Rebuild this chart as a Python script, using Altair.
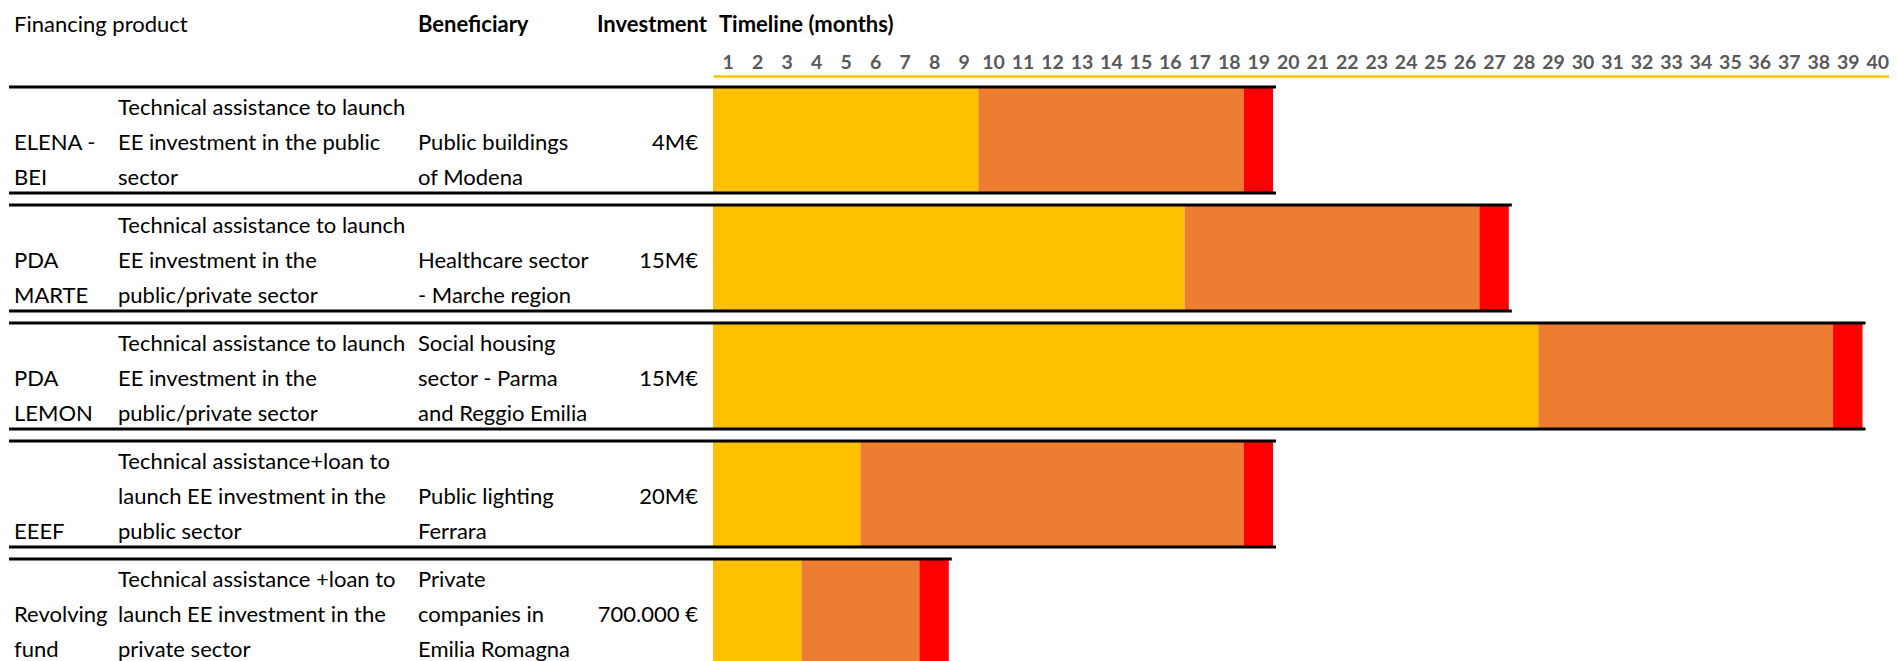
import altair as alt
import pandas as pd

# ---------------- data ----------------
products = ["ELENA -\nBEI", "PDA\nMARTE", "PDA\nLEMON", "EEEF", "Revolving\nfund"]
descriptions = [
    "Technical assistance to launch\nEE investment in the public\nsector",
    "Technical assistance to launch\nEE investment in the\npublic/private sector",
    "Technical assistance to launch\nEE investment in the\npublic/private sector",
    "Technical assistance+loan to\nlaunch EE investment in the\npublic sector",
    "Technical assistance +loan to\nlaunch EE investment in the\nprivate sector",
]
beneficiaries = [
    "Public buildings\nof Modena",
    "Healthcare sector\n- Marche region",
    "Social housing\nsector - Parma\nand Reggio Emilia",
    "Public lighting\nFerrara",
    "Private\ncompanies in\nEmilia Romagna",
]
investments = ["4M€", "15M€", "15M€", "20M€", "700.000 €"]
phase1_end = [9, 16, 28, 5, 3]
phase2_end = [18, 26, 38, 18, 7]
phase3_end = [19, 27, 39, 19, 8]
months = list(range(1, 41))
headers = ["Financing product", "Beneficiary", "Investment", "Timeline (months)"]

# ---------------- tables built from the arrays ----------------
seg_rows = []
for i in range(len(products)):
    b = [0, phase1_end[i], phase2_end[i], phase3_end[i]]
    for p in range(3):
        seg_rows.append({"row": i, "phase": p + 1, "start": b[p], "end": b[p + 1]})
seg_df = pd.DataFrame(seg_rows)

row_df = pd.DataFrame({"row": list(range(len(products))), "end": phase3_end})

text_rows = []
for col, texts, valign in [
    ("product", products, "bottom"),
    ("description", descriptions, "bottom"),
    ("beneficiary", beneficiaries, "bottom"),
    ("investment", investments, "middle"),
]:
    for i, t in enumerate(texts):
        parts = t.split("\n")
        first = 1 if valign == "middle" else 3 - len(parts)
        for k, p in enumerate(parts):
            text_rows.append({"col": col, "row": i, "slot": first + k, "text": p})
text_df = pd.DataFrame(text_rows)

head_df = pd.DataFrame({"idx": list(range(len(headers))), "text": headers})

# ---------------- styling / layout ----------------
TXT_FONT = "Lato"
BAND = 0.8983          # bar height in row units
LINE0 = 0.2331         # first text baseline in row units
LSTEP = 0.2983         # line step in row units

xs = alt.Scale(domain=[0, 40], range=[705, 1884], nice=False, zero=False)
ys = alt.Scale(domain=[0, 5], range=[79, 669], nice=False, zero=False)

x_axis = alt.Axis(
    orient="top", offset=-68, values=[m - 0.5 for m in months],
    labelExpr="datum.value + 0.5", ticks=False, tickSize=0, grid=False,
    domainColor="#FFC000", domainWidth=2.5, labelFont="Lato",
    labelFontWeight="bold", labelFontSize=19.5, labelColor="#595959",
    labelPadding=8, labelBaseline="alphabetic", labelFlush=False,
    labelOverlap=False, title=None,
)

bars = alt.Chart(seg_df).transform_calculate(
    y0="datum.row", y1="datum.row + %f" % BAND
).mark_rect().encode(
    x=alt.X("start:Q", scale=xs, axis=x_axis),
    x2="end:Q",
    y=alt.Y("y0:Q", scale=ys, axis=None),
    y2="y1:Q",
    color=alt.Color("phase:O", scale=alt.Scale(domain=[1, 2, 3], range=["#FFC000", "#ED7D31", "#FF0000"]), legend=None),
)

top_lines = alt.Chart(row_df).transform_calculate(ly="datum.row").mark_rule(
    color="black", strokeWidth=3, xOffset=3
).encode(
    x=alt.X("end:Q", scale=xs, title=None),
    x2=alt.value(1),
    y=alt.Y("ly:Q", scale=ys, axis=None),
)
bottom_lines = alt.Chart(row_df).transform_calculate(ly="datum.row + %f" % BAND).mark_rule(
    color="black", strokeWidth=3, xOffset=3
).encode(
    x=alt.X("end:Q", scale=xs, title=None),
    x2=alt.value(1),
    y=alt.Y("ly:Q", scale=ys, axis=None),
)


def text_col(col, xpos, align):
    return alt.Chart(text_df).transform_filter(
        alt.datum.col == col
    ).transform_calculate(
        ty="datum.row + %f + datum.slot * %f" % (LINE0, LSTEP)
    ).mark_text(
        align=align, baseline="alphabetic", font=TXT_FONT, fontSize=22, color="black"
    ).encode(
        x=alt.value(xpos),
        y=alt.Y("ty:Q", scale=ys, axis=None),
        text="text:N",
    )


def header(idx, xpos, weight):
    return alt.Chart(head_df).transform_filter(alt.datum.idx == idx).mark_text(
        align="left", baseline="alphabetic", font=TXT_FONT, fontSize=22,
        fontWeight=weight, color="black"
    ).encode(x=alt.value(xpos), y=alt.value(24), text="text:N")


chart = alt.layer(
    bars,
    top_lines,
    bottom_lines,
    text_col("product", 6, "left"),
    text_col("description", 110, "left"),
    text_col("beneficiary", 410, "left"),
    text_col("investment", 690, "right"),
    header(0, 6, "normal"),
    header(1, 410, "bold"),
    header(2, 589, "bold"),
    header(3, 711, "bold"),
).properties(
    width=1881, height=653, padding=0, background="white",
    autosize=alt.AutoSizeParams(type="none"),
).configure_view(strokeWidth=0)

chart.save("out.html", embed_options={"renderer": "svg", "actions": False})
